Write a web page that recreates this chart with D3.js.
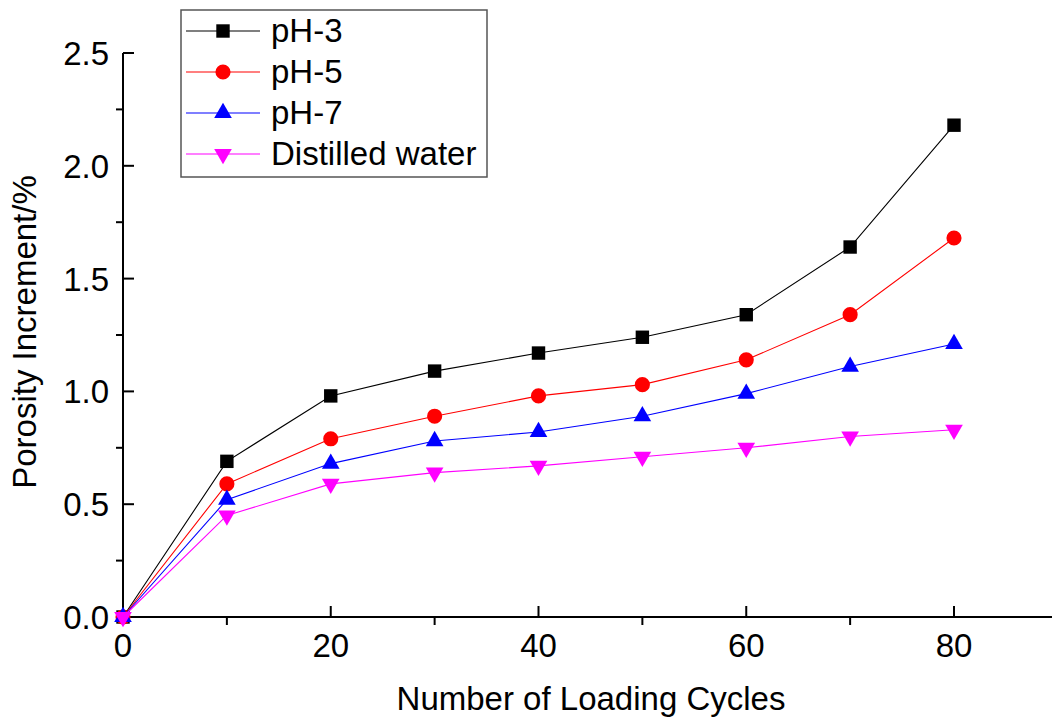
<!DOCTYPE html>
<html><head><meta charset="utf-8">
<script src="https://cdn.jsdelivr.net/npm/d3@7"></script>
<style>body{margin:0;background:#fff}svg{display:block}text{font-family:"Liberation Sans",Arial,sans-serif;fill:#000}</style>
</head><body><svg id="c" width="1052" height="720"></svg>
<script>
const cycles = [0,10,20,30,40,50,60,70,80];
const ph3 = [0,0.69,0.98,1.09,1.17,1.24,1.34,1.64,2.18];
const ph5 = [0,0.59,0.79,0.89,0.98,1.03,1.14,1.34,1.68];
const ph7 = [0,0.52,0.68,0.78,0.82,0.89,0.99,1.11,1.21];
const water = [0,0.45,0.59,0.64,0.67,0.71,0.75,0.80,0.83];
const seriesNames = ["pH-3","pH-5","pH-7","Distilled water"];
const xTicks = [0,20,40,60,80];
const yTicks = [0.0,0.5,1.0,1.5,2.0,2.5];
const xTitle = "Number of Loading Cycles";
const yTitle = "Porosity Increment/%";

const series = [
  {name:seriesNames[0], values:ph3, color:"#000000", sym:d3.symbolSquare, size:180, rot:0},
  {name:seriesNames[1], values:ph5, color:"#ff0000", sym:d3.symbolCircle, size:180, rot:0},
  {name:seriesNames[2], values:ph7, color:"#0000ff", sym:d3.symbolTriangle, size:135, rot:0},
  {name:seriesNames[3], values:water, color:"#ff00ff", sym:d3.symbolTriangle, size:135, rot:180}
];

const FS = 33;
const svg = d3.select("#c");
const x = d3.scaleLinear().domain([0,80]).range([123,954]);
const y = d3.scaleLinear().domain([0,2.5]).range([617,53]);
const xMax = x.invert(1052);

const g = svg.append("g");
g.append("line").attr("x1",x(0)).attr("x2",1052).attr("y1",y(0)).attr("y2",y(0)).attr("stroke","#000").attr("stroke-width",2);
g.append("line").attr("x1",x(0)).attr("x2",x(0)).attr("y1",y(0)).attr("y2",y(2.5)).attr("stroke","#000").attr("stroke-width",2);

xTicks.forEach(t=>{
  g.append("line").attr("x1",x(t)).attr("x2",x(t)).attr("y1",y(0)).attr("y2",y(0)-11).attr("stroke","#000").attr("stroke-width",2);
  g.append("text").attr("x",x(t)).attr("y",657).attr("text-anchor","middle").attr("font-size",FS).text(t);
});
d3.range(10,xMax,20).forEach(t=>{
  g.append("line").attr("x1",x(t)).attr("x2",x(t)).attr("y1",y(0)).attr("y2",y(0)+8).attr("stroke","#000").attr("stroke-width",2);
});
yTicks.forEach(t=>{
  g.append("line").attr("x1",x(0)).attr("x2",x(0)+11).attr("y1",y(t)).attr("y2",y(t)).attr("stroke","#000").attr("stroke-width",2);
  g.append("text").attr("x",109).attr("y",y(t)+12).attr("text-anchor","end").attr("font-size",FS).text(t.toFixed(1));
});
d3.range(0.25,2.5,0.5).forEach(t=>{
  g.append("line").attr("x1",x(0)).attr("x2",x(0)-7).attr("y1",y(t)).attr("y2",y(t)).attr("stroke","#000").attr("stroke-width",2);
});

svg.append("text").attr("x",591).attr("y",710).attr("text-anchor","middle").attr("font-size",FS).text(xTitle);
svg.append("text").attr("transform","translate(36,332) rotate(-90)").attr("text-anchor","middle").attr("font-size",FS).text(yTitle);

const line = d3.line().x((d,i)=>x(cycles[i])).y(d=>y(d));
series.forEach(s=>{
  svg.append("path").attr("d",line(s.values)).attr("fill","none").attr("stroke",s.color).attr("stroke-width",1.1);
  svg.selectAll(null).data(s.values).enter().append("path")
    .attr("d",d3.symbol().type(s.sym).size(s.size))
    .attr("transform",(d,i)=>`translate(${x(cycles[i])},${y(d)}) rotate(${s.rot})`)
    .attr("fill",s.color);
});

const lg = svg.append("g");
lg.append("rect").attr("x",181).attr("y",10).attr("width",306).attr("height",167).attr("fill","#fff").attr("stroke","#555").attr("stroke-width",1.5);
series.forEach((s,i)=>{
  const cy = 31 + i*41;
  lg.append("line").attr("x1",186).attr("x2",260).attr("y1",cy).attr("y2",cy).attr("stroke",s.color).attr("stroke-width",1.1);
  lg.append("path").attr("d",d3.symbol().type(s.sym).size(s.size)).attr("transform",`translate(223,${cy}) rotate(${s.rot})`).attr("fill",s.color);
  lg.append("text").attr("x",271).attr("y",cy+11).attr("font-size",FS).text(s.name);
});
</script></body></html>
